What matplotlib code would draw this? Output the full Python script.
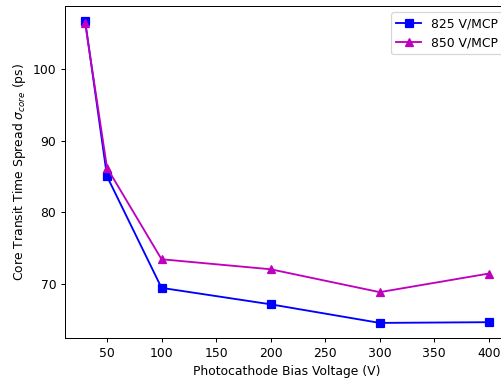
import matplotlib
matplotlib.use("Agg")
import matplotlib.pyplot as plt

# Photocathode bias voltage (V)
bias = [30, 50, 100, 200, 300, 400]

# Core transit time spread (ps) for each MCP voltage
tts_825 = [106.7, 85.0, 69.4, 67.1, 64.5, 64.6]
tts_850 = [106.4, 86.2, 73.4, 72.0, 68.8, 71.4]

dpi = 89
fig = plt.figure(figsize=(501 / dpi, 380 / dpi), dpi=dpi)
ax = fig.add_axes([65 / 501, 42 / 380, 444 / 501, 332 / 380])

ax.plot(bias, tts_825, "bs-", label="825 V/MCP")
ax.plot(bias, tts_850, "m^-", label="850 V/MCP")

ax.set_xticks([50, 100, 150, 200, 250, 300, 350, 400])
ax.set_yticks([70, 80, 90, 100])
ax.set_xlabel("Photocathode Bias Voltage (V)")
ax.set_ylabel(r"Core Transit Time Spread $\sigma_{core}$ (ps)")
ax.legend(loc="upper right")

fig.savefig("out.png", dpi=dpi)
